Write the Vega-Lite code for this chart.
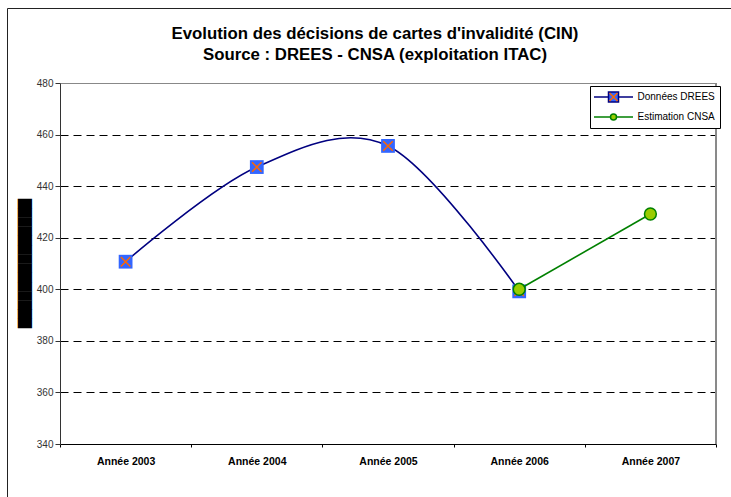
{
  "$schema": "https://vega.github.io/schema/vega-lite/v6.json",
  "width": 724,
  "height": 489,
  "autosize": "none",
  "padding": {"left": 7, "top": 8, "right": 0, "bottom": 0},
  "background": "#ffffff",
  "config": {
    "view": {"stroke": "#222222", "strokeWidth": 1},
    "font": "Liberation Sans"
  },
  "title": {
    "text": ["Evolution des décisions de cartes d'invalidité (CIN)", "Source : DREES - CNSA (exploitation ITAC)"],
    "font": "Liberation Sans",
    "fontSize": 16.8,
    "fontWeight": "bold",
    "color": "#000000",
    "anchor": "middle",
    "frame": "group",
    "lineHeight": 21,
    "offset": -56,
    "dx": 6
  },
  "data": {
    "values": [
      {"annee": 2003, "valeur": 410.7, "serie": "Données DREES"},
      {"annee": 2004, "valeur": 447.4, "serie": "Données DREES"},
      {"annee": 2005, "valeur": 455.6, "serie": "Données DREES"},
      {"annee": 2006, "valeur": 399.2, "serie": "Données DREES"},
      {"annee": 2006, "valeur": 400.0, "serie": "Estimation CNSA"},
      {"annee": 2007, "valeur": 429.2, "serie": "Estimation CNSA"}
    ]
  },
  "encoding": {
    "x": {
      "field": "annee",
      "type": "quantitative",
      "scale": {"domain": [2002.5, 2007.5], "range": [53, 709], "nice": false, "zero": false},
      "axis": {
        "values": [2002.5, 2003.5, 2004.5, 2005.5, 2006.5, 2007.5],
        "offset": -53,
        "title": null,
        "tickSize": 3,
        "tickColor": "#000000",
        "domainColor": "#000000",
        "labelExpr": "datum.value < 2007 ? 'Année ' + (datum.value + 0.5) : ''",
        "labelOffset": 65.6,
        "labelFont": "Liberation Sans",
        "labelFontWeight": "bold",
        "labelFontSize": 10.5,
        "labelColor": "#000000",
        "labelPadding": 9,
        "labelFlush": false,
        "labelOverlap": false,
        "grid": false
      }
    },
    "y": {
      "field": "valeur",
      "type": "quantitative",
      "scale": {"domain": [340, 480], "range": [436, 75], "nice": false, "zero": false},
      "axis": {
        "values": [340, 360, 380, 400, 420, 440, 460, 480],
        "offset": -53,
        "tickSize": 5,
        "tickColor": "#333333",
        "domainColor": "#333333",
        "labelFont": "Liberation Sans",
        "labelFontSize": 10,
        "labelColor": "#333333",
        "labelPadding": 2,
        "grid": true,
        "gridColor": {"condition": {"test": "datum.value == 480", "value": "#888888"}, "value": "#000000"},
        "gridDash": {"condition": {"test": "datum.value == 480", "value": []}, "value": [8, 5]},
        "gridOpacity": {"condition": {"test": "datum.value == 340", "value": 0}, "value": 1},
        "title": "██████████████",
        "titleFont": "DejaVu Sans",
        "titleFontSize": 12,
        "titleFontWeight": "normal",
        "titleColor": "#000000",
        "titleAngle": -90,
        "titleAlign": "center",
        "titleBaseline": "middle",
        "titleX": -36,
        "titleY": 255
      }
    }
  },
  "layer": [
    {
      "mark": {"type": "rule", "color": "#888888", "strokeWidth": 1},
      "encoding": {
        "x": {"datum": 2007.5, "type": "quantitative"},
        "y": {"datum": 340, "type": "quantitative"},
        "y2": {"datum": 480}
      }
    },
    {
      "transform": [{"filter": "datum.serie == 'Données DREES'"}],
      "mark": {"type": "line", "interpolate": "cardinal", "strokeWidth": 1.6},
      "encoding": {
        "color": {
          "field": "serie",
          "type": "nominal",
          "scale": {"domain": ["Données DREES", "Estimation CNSA"], "range": ["#000080", "#008000"]},
          "legend": {
            "orient": "none",
            "legendX": 583,
            "legendY": 78,
            "title": null,
            "padding": 5,
            "strokeColor": "#000000",
            "fillColor": "#ffffff",
            "symbolSize": 100,
            "symbolStrokeWidth": 1.5,
            "symbolOffset": 12.5,
            "labelOffset": 18,
            "rowPadding": 6,
            "labelFont": "Liberation Sans",
            "labelFontSize": 10,
            "labelColor": "#000000",
            "encode": {
              "symbols": {
                "update": {
                  "shape": {"signal": "datum.value == 'Données DREES' ? 'M-3.9,0H-1M1,0H3.9M-1,-1H1V1H-1Z' : 'M-3.9,0H-0.6M0.6,0H3.9M0.6,0A0.6,0.6,0,1,1,-0.6,0A0.6,0.6,0,1,1,0.6,0Z'"},
                  "fill": {"signal": "datum.value == 'Données DREES' ? '#3366FF' : '#99CC00'"},
                  "fillOpacity": {"value": 1}
                }
              }
            }
          }
        }
      }
    },
    {
      "transform": [{"filter": "datum.serie == 'Données DREES'"}],
      "mark": {"type": "point", "shape": "square", "filled": true, "size": 190, "color": "#3366FF", "opacity": 1}
    },
    {
      "transform": [{"filter": "datum.serie == 'Données DREES'"}],
      "mark": {"type": "point", "shape": "M-1,-1L1,1M1,-1L-1,1", "filled": false, "size": 90, "strokeWidth": 1.5, "opacity": 1},
      "encoding": {
        "stroke": {
          "field": "serie",
          "type": "nominal",
          "scale": {"domain": ["Données DREES"], "range": ["#FF6600"]},
          "legend": {
            "orient": "none",
            "legendX": 583,
            "legendY": 78,
            "title": null,
            "padding": 5,
            "symbolType": "M-0.8,-0.8L0.8,0.8M0.8,-0.8L-0.8,0.8",
            "symbolSize": 100,
            "symbolStrokeWidth": 1.5,
            "symbolOffset": 12.5,
            "symbolFillColor": "transparent",
            "labelOffset": 18,
            "labelOpacity": 0,
            "labelFontSize": 10,
            "rowPadding": 6
          }
        }
      }
    },
    {
      "transform": [{"filter": "datum.serie == 'Estimation CNSA'"}],
      "mark": {"type": "line", "strokeWidth": 1.6},
      "encoding": {
        "color": {"field": "serie", "type": "nominal"}
      }
    },
    {
      "transform": [{"filter": "datum.serie == 'Estimation CNSA'"}],
      "mark": {"type": "point", "shape": "circle", "filled": true, "size": 140, "fill": "#99CC00", "stroke": "#008000", "strokeWidth": 1.5, "opacity": 1}
    }
  ]
}
